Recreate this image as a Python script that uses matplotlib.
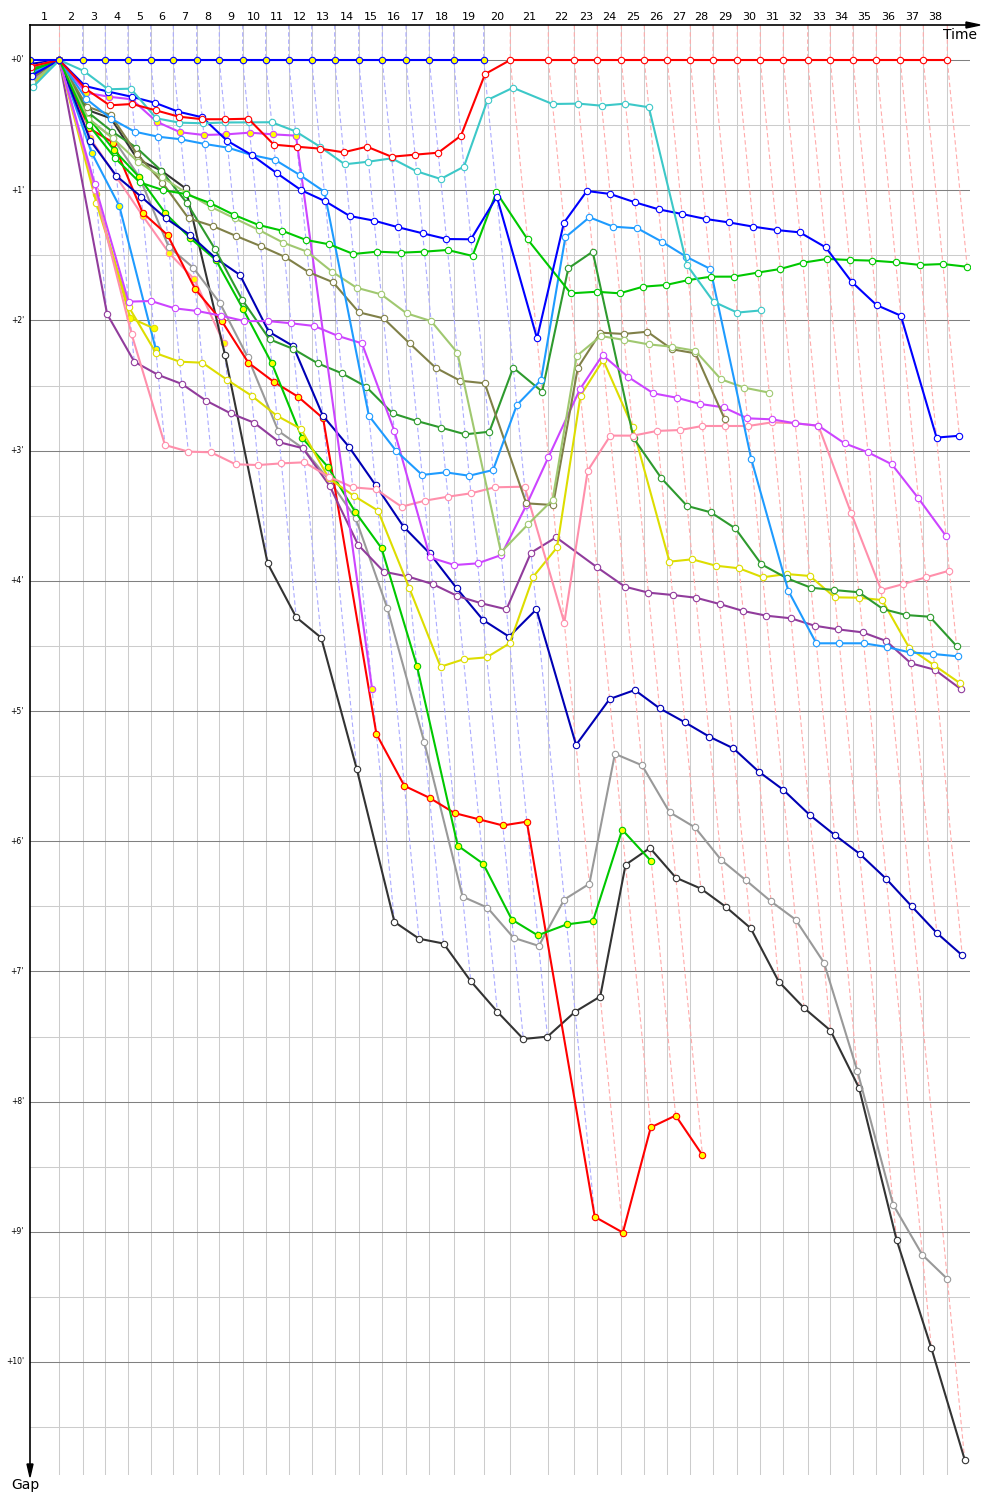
import matplotlib
matplotlib.use("Agg")
import matplotlib.pyplot as plt
from matplotlib.transforms import IdentityTransform
from matplotlib.patches import Polygon
from matplotlib.lines import Line2D

# ---------------- data ----------------
# leader cumulative race time (minutes) at the end of each lap (index = lap, 0 = start)
leader_time = [0.0, 2.344, 4.216, 6.024, 7.84, 9.656, 11.464, 13.336, 15.144, 17.016,
               18.856, 20.696, 22.536, 24.376, 26.296, 28.184, 30.08, 31.944, 33.896, 36.296,
               38.424, 41.464, 43.544, 45.384, 47.304, 49.144, 50.984, 52.824, 54.64, 56.584,
               58.424, 60.264, 62.216, 64.024, 65.84, 67.704, 69.624, 71.464, 73.384]
lap_labels = [str(i) for i in range(1, 39)]
lap_leader = ["red"] + ["blue"] * 18 + ["red"] * 19   # who led each lap 1..38
gap_ticks = list(range(0, 11))

# gap to leader (minutes) for each car, index = lap number (0 = start)
gap_blue_leader = [0.0, 0, 0, 0, 0, 0, 0, 0, 0, 0, 0, 0, 0, 0, 0, 0, 0, 0, 0, 0]
gap_red = [0.05, 0, 0.22, 0.348, 0.338, 0.386, 0.435, 0.455, 0.455, 0.451, 0.65, 0.666, 0.681,
           0.709, 0.666, 0.743, 0.727, 0.712, 0.581, 0.108, 0, 0, 0, 0, 0, 0, 0, 0, 0, 0, 0,
           0, 0, 0, 0, 0, 0, 0, 0]
gap_cyan = [0.21, 0, 0.084, 0.225, 0.22, 0.448, 0.481, 0.486, 0.48, 0.479, 0.478, 0.548, 0.666,
            0.801, 0.781, 0.755, 0.855, 0.914, 0.819, 0.307, 0.213, 0.338, 0.335, 0.351, 0.335,
            0.363, 1.575, 1.856, 1.94, 1.923]
gap_blue2 = [0.12, 0, 0.2, 0.243, 0.282, 0.328, 0.397, 0.44, 0.62, 0.73, 0.868, 1.0, 1.085,
             1.198, 1.234, 1.285, 1.331, 1.375, 1.377, 1.05, 2.138, 1.25, 1.006, 1.029, 1.093,
             1.147, 1.183, 1.221, 1.247, 1.28, 1.306, 1.324, 1.439, 1.703, 1.882, 1.964, 2.9, 2.886]
gap_green = [0.08, 0, 0.5, 0.75, 0.94, 1.0, 1.03, 1.1, 1.19, 1.267, 1.311, 1.382, 1.416, 1.49,
             1.472, 1.48, 1.472, 1.459, 1.505, 1.016, 1.377, 1.792, 1.78, 1.792, 1.741, 1.728,
             1.69, 1.664, 1.664, 1.633, 1.605, 1.557, 1.528, 1.536, 1.541, 1.554, 1.574, 1.567, 1.588]
gap_lblue = [0.1, 0, 0.3, 0.45, 0.551, 0.589, 0.609, 0.645, 0.673, 0.73, 0.768, 0.883, 1.011,
             2.732, 3.003, 3.187, 3.167, 3.193, 3.149, 2.65, 2.458, 1.362, 1.208, 1.28, 1.293,
             1.395, 1.511, 1.605, 3.067, 4.076, 4.48, 4.48, 4.48, 4.508, 4.55, 4.562, 4.58]
gap_violet = [0.15, 0, 0.95, 1.856, 1.851, 1.907, 1.928, 1.964, 2.005, 2.005, 2.022, 2.043, 2.12,
              2.176, 2.847, 3.82, 3.879, 3.866, 3.802, 3.418, 3.05, 2.529, 2.266, 2.432, 2.56,
              2.594, 2.642, 2.668, 2.752, 2.76, 2.79, 2.809, 2.944, 3.013, 3.105, 3.366, 3.656]
gap_pink = [0.05, 0, 1.0, 2.107, 2.957, 3.008, 3.013, 3.105, 3.111, 3.098, 3.09, 3.2, 3.282,
            3.297, 3.431, 3.385, 3.354, 3.328, 3.282, 3.277, 4.322, 3.154, 2.885, 2.885, 2.849,
            2.842, 2.811, 2.811, 2.811, 2.783, 2.79, 2.809, 3.482, 4.071, 4.025, 3.973, 3.922]
gap_purple = [0.1, 0, 1.951, 2.317, 2.419, 2.488, 2.616, 2.714, 2.786, 2.936, 2.982, 3.27, 3.725,
              3.93, 3.968, 4.025, 4.117, 4.173, 4.219, 3.784, 3.666, 3.896, 4.045, 4.091, 4.109,
              4.13, 4.178, 4.232, 4.268, 4.288, 4.345, 4.373, 4.396, 4.462, 4.634, 4.683, 4.831]
gap_yellow = [0.18, 0, 1.1, 1.9, 2.253, 2.317, 2.325, 2.458, 2.578, 2.732, 2.834, 3.213, 3.346,
              3.461, 4.058, 4.66, 4.603, 4.588, 4.48, 3.968, 3.743, 2.578, 2.304, 2.816, 3.853,
              3.835, 3.884, 3.904, 3.973, 3.948, 3.963, 4.127, 4.13, 4.148, 4.518, 4.65, 4.787]
gap_dkgreen = [0.07, 0, 0.4, 0.55, 0.673, 0.85, 1.1, 1.45, 1.843, 2.145, 2.22, 2.33, 2.406, 2.509,
               2.714, 2.773, 2.824, 2.875, 2.855, 2.363, 2.547, 1.6, 1.472, 2.906, 3.213, 3.425,
               3.474, 3.597, 3.873, 3.981, 4.053, 4.071, 4.088, 4.217, 4.263, 4.276, 4.501]
gap_navy = [0.03, 0, 0.62, 0.891, 1.05, 1.216, 1.344, 1.523, 1.651, 2.087, 2.197, 2.732, 2.97,
            3.264, 3.584, 3.789, 4.058, 4.301, 4.429, 4.219, 5.261, 4.908, 4.839, 4.979, 5.087,
            5.197, 5.287, 5.465, 5.604, 5.799, 5.952, 6.096, 6.29, 6.499, 6.705, 6.877]
gap_grey = [0.13, 0, 0.45, 0.6, 0.896, 1.434, 1.595, 1.869, 2.284, 2.849, 2.982, 3.226, 3.52,
            4.211, 5.236, 6.426, 6.51, 6.742, 6.804, 6.448, 6.327, 5.329, 5.417, 5.777, 5.894,
            6.143, 6.301, 6.463, 6.602, 6.933, 7.765, 8.793, 9.178, 9.362]
gap_black = [0.09, 0, 0.384, 0.448, 0.763, 0.85, 0.986, 2.266, 3.866, 4.28, 4.437, 5.446, 6.62,
             6.749, 6.786, 7.075, 7.31, 7.519, 7.501, 7.31, 7.193, 6.181, 6.052, 6.28, 6.364,
             6.503, 6.668, 7.079, 7.281, 7.454, 7.894, 9.061, 9.894, 10.749]
gap_red2 = [0.11, 0, 0.525, 0.635, 1.173, 1.344, 1.761, 2.005, 2.325, 2.471, 2.586, 2.752, 5.177,
            5.575, 5.667, 5.784, 5.832, 5.879, 5.85, 8.885, 9.006, 8.198, 8.107, 8.411]
gap_green2 = [0.06, 0, 0.44, 0.691, 0.9, 1.178, 1.369, 1.536, 1.915, 2.33, 2.901, 3.124, 3.469,
              3.75, 4.652, 6.034, 6.173, 6.602, 6.723, 6.639, 6.613, 5.912, 6.154]
gap_violet2 = [0.16, 0, 0.251, 0.282, 0.302, 0.474, 0.555, 0.576, 0.571, 0.558, 0.571, 0.581, 4.831]
gap_olive = [0.14, 0, 0.358, 0.422, 0.722, 0.942, 1.216, 1.275, 1.352, 1.429, 1.511, 1.631, 1.707,
             1.938, 1.984, 2.176, 2.363, 2.463, 2.483, 3.405, 3.418, 2.363, 2.094, 2.104, 2.087,
             2.222, 2.253, 2.76]
gap_ltgreen = [0.17, 0, 0.45, 0.6, 0.78, 0.9, 1.019, 1.127, 1.216, 1.306, 1.403, 1.472, 1.626,
               1.749, 1.8, 1.946, 2.005, 2.248, 3.781, 3.564, 3.379, 2.273, 2.12, 2.15, 2.184,
               2.202, 2.233, 2.452, 2.517, 2.555]
gap_yellow2 = [0.19, 0, 1.031, 1.979, 2.061]
gap_lblue2 = [0.2, 0, 0.712, 1.121, 2.222]
gap_pink2 = [0.04, 0, 0.6, 0.9, 1.2, 1.485, 1.684, 2.176]

# drawing order (first = bottom), with line colour and marker fill
cars = [
    (gap_pink2, "#FF8FAB", "#FFFF00"),
    (gap_lblue2, "#1E9BFF", "#FFFF00"),
    (gap_yellow2, "#DDDD00", "#FFFF00"),
    (gap_black, "#333333", "white"),
    (gap_grey, "#999999", "white"),
    (gap_red2, "#FF0000", "#FFFF00"),
    (gap_green2, "#00C800", "#FFFF00"),
    (gap_navy, "#0000B4", "white"),
    (gap_purple, "#913C9C", "white"),
    (gap_yellow, "#DDDD00", "white"),
    (gap_dkgreen, "#2E9A2E", "white"),
    (gap_pink, "#FF8FAB", "white"),
    (gap_violet2, "#CC44FF", "#FFFF00"),
    (gap_violet, "#CC44FF", "white"),
    (gap_olive, "#808048", "white"),
    (gap_ltgreen, "#A0C870", "white"),
    (gap_lblue, "#1E9BFF", "white"),
    (gap_green, "#00C800", "white"),
    (gap_blue2, "#0000FF", "white"),
    (gap_cyan, "#3CC8C8", "white"),
    (gap_red, "#FF0000", "white"),
    (gap_blue_leader, "#0000FF", "#FFFF00"),
]

# ---------------- figure ----------------
W, H = 1000, 1500
fig = plt.figure(figsize=(W / 100, H / 100), dpi=100)
px_left, px_right, px_top, px_bottom = 30, 970, 25, 1475
ax = fig.add_axes([px_left / W, 1 - px_bottom / H, (px_right - px_left) / W, (px_bottom - px_top) / H])
x_scale = 12.5     # px per minute of race time
y_scale = 130.2    # px per minute of gap
y_top = -(60 - px_top) / y_scale
y_bot = y_top + (px_bottom - px_top) / y_scale
x_max = (px_right - px_left) / x_scale
ax.set_xlim(0, x_max)
ax.set_ylim(y_bot, y_top)
ax.axis("off")

# horizontal grid
for i in range(0, 22):
    g = i * 0.5
    if g > y_bot:
        break
    col = "#808080" if i % 2 == 0 else "#CCCCCC"
    ax.plot([0, x_max], [g, g], color=col, lw=0.75, zorder=0.6)

# vertical grid at each leader lap
for t in leader_time[1:]:
    ax.plot([t, t], [y_top, y_bot], color="#CCCCCC", lw=0.75, zorder=0.5)

# lap lines (dashed), from leader down to the slowest car of that lap
all_gaps = [c[0] for c in cars]
for k in range(1, 39):
    gmax = max([g[k] for g in all_gaps if len(g) > k])
    col = "#ABABFF" if lap_leader[k - 1] == "blue" else "#FFABAB"
    t = leader_time[k]
    ax.plot([t, t, t + gmax], [y_top, 0, gmax], color=col, lw=0.8,
            linestyle=(0, (4, 2.5)), zorder=1)

# series
for gaps, col, face in cars:
    xs = [leader_time[k] + g for k, g in enumerate(gaps)]
    ax.plot(xs, gaps, color=col, lw=1.5, marker="o", ms=4.6, mfc=face, mec=col,
            mew=0.8, zorder=3, solid_joinstyle="round")

# lap labels on top
for i, lab in enumerate(lap_labels):
    xm = (leader_time[i] + leader_time[i + 1]) / 2
    ax.text(xm, y_top - 8 / y_scale, lab, ha="center", va="center", fontsize=8,
            clip_on=False, family="DejaVu Sans")

# gap labels
for g in gap_ticks:
    ax.text(-6 / x_scale, g, "+%d'" % g, ha="right", va="center", fontsize=5.5,
            clip_on=False)

# axes with arrows (figure pixel coords, origin bottom-left)
idt = IdentityTransform()
def fy(y):
    return H - y

fig.add_artist(Line2D([30, 968], [fy(25), fy(25)], color="black", lw=1.2, transform=idt))
fig.add_artist(Polygon([[980, fy(25)], [966, fy(22)], [966, fy(28)]], closed=True,
                       color="black", transform=idt))
fig.add_artist(Line2D([30, 30], [fy(25), fy(1466)], color="black", lw=1.2, transform=idt))
fig.add_artist(Polygon([[30, fy(1477)], [27, fy(1464)], [33, fy(1464)]], closed=True,
                       color="black", transform=idt))
fig.text(977 / W, 1 - 35 / H, "Time", ha="right", va="center", fontsize=10)
fig.text(25 / W, 1 - 1485 / H, "Gap", ha="center", va="center", fontsize=10)

fig.savefig("out.png", dpi=100, facecolor="white")
